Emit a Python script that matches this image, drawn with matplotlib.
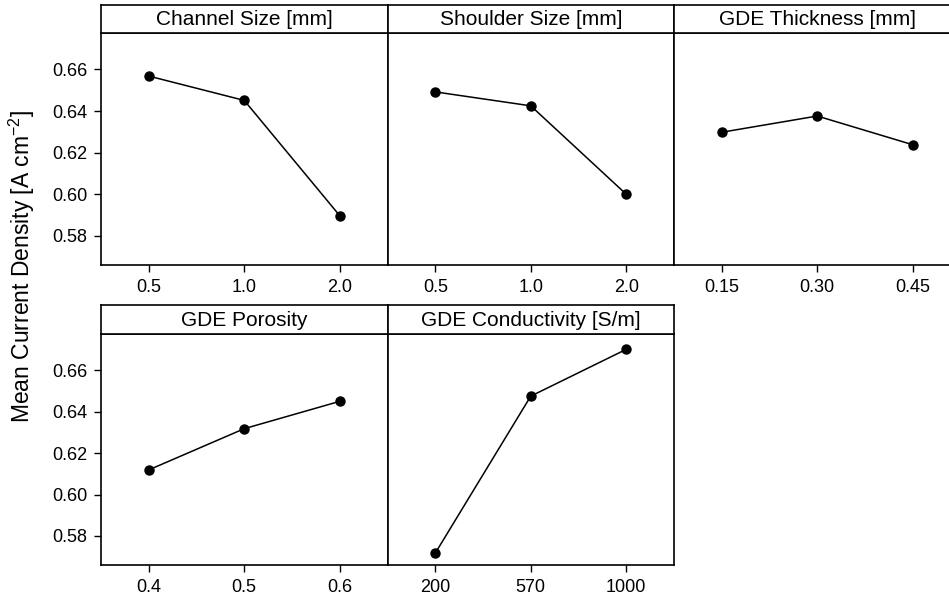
import matplotlib
matplotlib.use('Agg')
import matplotlib.pyplot as plt

plt.rcParams['font.family'] = ['Liberation Sans', 'DejaVu Sans']
plt.rcParams['mathtext.default'] = 'regular'

# main effects data
titles = ['Channel Size [mm]', 'Shoulder Size [mm]', 'GDE Thickness [mm]',
          'GDE Porosity', 'GDE Conductivity [S/m]']
channel_lbl = ['0.5', '1.0', '2.0']
shoulder_lbl = ['0.5', '1.0', '2.0']
thickness_lbl = ['0.15', '0.30', '0.45']
porosity_lbl = ['0.4', '0.5', '0.6']
conductivity_lbl = ['200', '570', '1000']
channel = [0.6568, 0.6451, 0.5897]
shoulder = [0.6492, 0.6425, 0.6000]
thickness = [0.6298, 0.6376, 0.6238]
porosity = [0.6119, 0.6318, 0.6450]
conductivity = [0.5717, 0.6475, 0.6701]

labels = [channel_lbl, shoulder_lbl, thickness_lbl, porosity_lbl, conductivity_lbl]
values = [channel, shoulder, thickness, porosity, conductivity]

W, H = 949, 603
fig = plt.figure(figsize=(W/100, H/100), dpi=100)

def box(x0, y0, x1, y1):
    return [x0/W, 1-y1/H, (x1-x0)/W, (y1-y0)/H]

lefts = [101, 387.5, 674]
pw = 286.5
rows = [(5, 33, 265), (305, 334, 565)]
lw = 1.2

for k in range(5):
    r, c = divmod(k, 3)
    st, pt, pb = rows[r]
    x0 = lefts[c]
    ax = fig.add_axes(box(x0, pt, x0+pw, pb))
    ax.plot(range(3), values[k], color='black', lw=1.1, marker='o', ms=6.5, zorder=3)
    ax.set_xlim(-0.5, 2.5)
    ax.set_ylim(0.566, 0.6775)
    ax.set_xticks(range(3))
    ax.set_xticklabels(labels[k])
    ax.set_yticks([0.58, 0.60, 0.62, 0.64, 0.66])
    ax.set_yticklabels(['0.58', '0.60', '0.62', '0.64', '0.66'])
    ax.tick_params(direction='out', length=5, width=1, labelsize=13, pad=5)
    if c != 0:
        ax.tick_params(axis='y', left=False, labelleft=False)
    for s in ax.spines.values():
        s.set_linewidth(lw)
    # header strip
    sx = fig.add_axes(box(x0, st, x0+pw, pt))
    sx.set_xticks([])
    sx.set_yticks([])
    for s in sx.spines.values():
        s.set_linewidth(lw)
    sx.text(0.5, 0.48, titles[k], ha='center', va='center', fontsize=15, transform=sx.transAxes)

fig.text(22/W, 1-266/H, 'Mean Current Density [A cm$^{-2}$]', rotation=90,
         ha='center', va='center', fontsize=16.5)

plt.savefig('out.png', dpi=100)
